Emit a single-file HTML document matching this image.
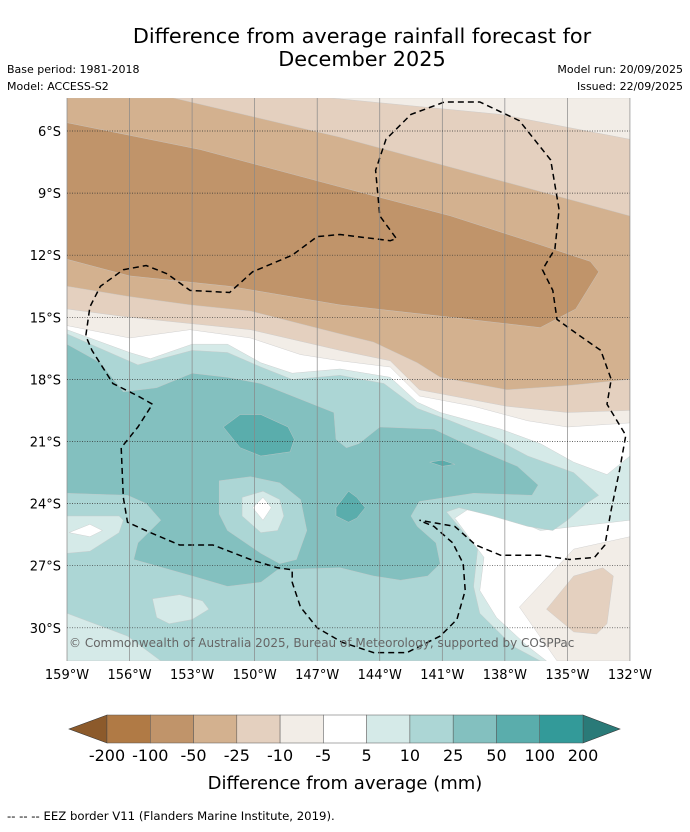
<!DOCTYPE html>
<html><head><meta charset="utf-8"><style>
body{margin:0;background:#fff;}
svg text{font-family:"DejaVu Sans","Liberation Sans",sans-serif;}
</style></head><body>
<svg id="chart" width="690" height="827" viewBox="0 0 690 827" xmlns="http://www.w3.org/2000/svg">
<text x="362" y="43" font-size="20.8" text-anchor="middle" fill="#000">Difference from average rainfall forecast for</text>
<text x="362" y="66" font-size="20.8" text-anchor="middle" fill="#000">December 2025</text>
<text x="7" y="73" font-size="11">Base period: 1981-2018</text>
<text x="7" y="90" font-size="11">Model: ACCESS-S2</text>
<text x="683" y="73" font-size="11" text-anchor="end">Model run: 20/09/2025</text>
<text x="683" y="90" font-size="11" text-anchor="end">Issued: 22/09/2025</text>
<defs><clipPath id="mapclip"><rect x="67" y="98" width="563" height="563"/></clipPath></defs>
<g id="map" clip-path="url(#mapclip)"></g>
<g id="axes"></g>
<text x="69" y="647" font-size="12" fill="#666">© Commonwealth of Australia 2025, Bureau of Meteorology, supported by COSPPac</text>
<g id="cbar"></g>
<text x="345" y="789" font-size="18" text-anchor="middle">Difference from average (mm)</text>
<text x="7" y="820" font-size="11.7">--  --  -- EEZ border V11 (Flanders Marine Institute, 2019).</text>
</svg>
<script>
const NS='http://www.w3.org/2000/svg';
// colour scale data
const levelLabels=['-200','-100','-50','-25','-10','-5','5','10','25','50','100','200'];
const levelColors=['#b07a45','#c0946a','#d3b18f','#e4d0bf','#f2ede7','#ffffff','#d5eae8','#acd6d5','#83c0bf','#5aadac','#339a99'];
const underColor='#8c5a2b';
const overColor='#2a7a78';
// axis ticks
const lonTicks=[-159,-156,-153,-150,-147,-144,-141,-138,-135,-132];
const latTicks=[6,9,12,15,18,21,24,27,30];
// contour polygons [lon, latS]
const polyB5=[[-159,4.4],[-132,4.4],[-132,20.1],[-135,20.3],[-136.9,20],[-139.5,19.3],[-142.1,18.8],[-143.5,17.4],[-145.9,17.1],[-147.8,16.8],[-150.2,16],[-153.1,15.6],[-156,16],[-159,15.4]];
const polyB10=[[-159,4.4],[-146.4,4.4],[-138.2,5.2],[-132,6.4],[-132,19.5],[-135,19.6],[-137.9,19.3],[-142.1,18.5],[-143.5,17.1],[-145.9,16.6],[-150.2,15.6],[-153.1,15.3],[-156,15],[-159,14.6]];
const polyB25=[[-159,4.4],[-153.9,4.4],[-145.9,6.3],[-138.2,8.4],[-132,10.1],[-132,18],[-135,18.3],[-137.9,18.5],[-141.1,17.9],[-142.2,17.2],[-144.3,16.2],[-145.9,15.8],[-150.2,14.7],[-153.1,14.4],[-156,14],[-159,13.5]];
const polyB50=[[-159,5.6],[-152.6,6.9],[-145.9,8.7],[-140.6,10.1],[-136.3,11.5],[-133.9,12.3],[-133.5,12.8],[-134.6,14.6],[-136.3,15.5],[-140.6,15],[-145.9,14.4],[-151.2,13.5],[-156,13],[-159,12.2]];
const polyT5=[[-159,15.6],[-156,16.7],[-155,17],[-153,16.3],[-151.3,16.3],[-149.7,17.2],[-148.2,17.7],[-145.9,17.5],[-143.5,17.9],[-142.2,19.1],[-141.1,19.6],[-138.2,20.4],[-136.3,21.1],[-134.7,22],[-133.1,22.6],[-132,21.7],[-132,24.8],[-136.3,25.3],[-137.9,24.6],[-139.8,24.3],[-140.4,24.7],[-139,26.6],[-139.2,28.2],[-138.4,29.5],[-136.9,30.9],[-136,31.6],[-159,31.6]];
const polyB5b=[[-137.3,29],[-134.7,26.2],[-132,25.6],[-132,31.6],[-135.5,31.6]];
const polyB10b=[[-136,29.1],[-134.7,27.5],[-133.3,27.1],[-132.8,27.5],[-133.1,29.8],[-133.6,30.3],[-134.7,30.2]];
const polyT10=[[-159,15.8],[-155.6,17.3],[-153,16.6],[-151.3,16.7],[-149.7,17.4],[-148.2,18],[-145.9,17.8],[-143.8,18.2],[-142.2,19.4],[-140.6,20],[-138.4,20.9],[-136.9,21.7],[-134.7,22.5],[-133.5,23.6],[-134.1,24],[-135,24.8],[-135.7,25.3],[-136.9,25.1],[-138.6,24.6],[-140.2,24.2],[-140.8,24.4],[-139.3,26.2],[-139.5,28],[-139.2,29.3],[-137.6,30.9],[-136.3,31.6],[-159,31.6]];
const polyT25=[[-159,16.3],[-157.4,17.2],[-156.3,18.6],[-154.7,18.4],[-153,17.7],[-151.3,17.9],[-149.7,18.2],[-146.2,19.6],[-146.1,20.9],[-145.6,21.3],[-145,21.1],[-144,20.3],[-141.4,20.4],[-139.5,21.3],[-137.4,22.2],[-136.4,23.1],[-136.7,23.6],[-139.5,23.5],[-142.1,23.9],[-142.5,24.6],[-142.2,25.1],[-141.3,25.9],[-141.1,26.9],[-141.7,27.5],[-143,27.7],[-144.3,27.5],[-145.9,27.1],[-148.9,27.2],[-149.7,27.8],[-151.3,28],[-153,27.5],[-155.8,26.7],[-155.6,25.9],[-155,25.3],[-154.5,24.8],[-155.2,24],[-156.1,23.6],[-159,23.5]];
const polyT10hole=[[-151.7,22.9],[-150.2,22.7],[-148.8,23],[-147.8,23.8],[-147.5,25.3],[-148,26.7],[-148.8,26.9],[-149.7,26.4],[-151.3,25.3],[-151.7,24.5]];
const polyT5hole=[[-150.6,23.7],[-149.6,23.4],[-148.8,23.8],[-148.6,24.6],[-148.9,25.3],[-149.7,25.4],[-150.6,24.6]];
const polyW1=[[-150.1,24.2],[-149.6,23.7],[-149.2,24.2],[-149.6,24.8]];
const polyT5left=[[-159,24.6],[-156.5,24.6],[-156.3,24.8],[-156.5,25.4],[-157.9,26.3],[-159,26.4]];
const polyW2=[[-158.9,25.4],[-157.9,25],[-157.3,25.3],[-157.9,25.6]];
const polyT5patch=[[-154.9,28.6],[-153.6,28.4],[-152.5,28.7],[-152.2,29.1],[-153,29.6],[-154.1,29.8],[-154.7,29.5]];
const polyT5bottom=[[-159,29.3],[-156.1,30.4],[-154.5,31.6],[-159,31.6]];
const polyT50a=[[-151.5,20.3],[-150.7,19.7],[-149.7,19.7],[-148.4,20.3],[-148.1,20.9],[-148.3,21.5],[-149.7,21.7],[-150.7,21.3]];
const polyT50b=[[-146.1,24.2],[-145.5,23.4],[-145.1,23.7],[-144.7,24.2],[-145.1,24.7],[-145.5,24.9],[-146.1,24.6]];
const polyT50c=[[-141.6,22],[-141,21.9],[-140.4,22.1],[-141,22.2]];
const eezLine=[[-141.9,24.9],[-141.4,25.1],[-140.5,25.9],[-140,26.9],[-139.9,28.2],[-140.3,29.6],[-141.1,30.4],[-142.7,31.2],[-144.3,31.2],[-145.8,30.7],[-147,30],[-147.8,29],[-148.2,27.8],[-148.2,27.2],[-148.9,27.1],[-150.2,26.7],[-152,26],[-153.6,26],[-155,25.4],[-156.1,24.9],[-156.3,23.7],[-156.4,21.3],[-155.6,20.3],[-154.9,19.2],[-155.6,18.8],[-156.8,18.2],[-157.8,16.6],[-158.1,15.9],[-157.9,14.5],[-157.4,13.5],[-156.3,12.7],[-155.2,12.5],[-154.2,12.9],[-153.1,13.7],[-151.2,13.8],[-150.1,12.8],[-148.2,12],[-147,11.1],[-145.9,11],[-143.5,11.3],[-143.2,11.2],[-144,10.1],[-144.2,7.9],[-143.7,6.4],[-142.5,5.2],[-140.9,4.6],[-139.2,4.6],[-137.3,5.5],[-135.8,7.4],[-135.4,9.8],[-135.6,11.7],[-136.2,12.7],[-135.7,13.7],[-135.5,15.1],[-134.4,15.9],[-133.4,16.6],[-132.9,18],[-133.1,19.2],[-132.2,20.7],[-132.5,22.4],[-132.9,24.3],[-133.2,26],[-133.7,26.6],[-134.9,26.7],[-136.3,26.5],[-138.2,26.5],[-139.4,26],[-140.4,25.1],[-142.1,24.8]];

// axis functions
const X=lon=>67+(lon+159)*20.85;
const Y=latS=>131+(latS-6)*20.7;
function el(tag,attrs,parent){const e=document.createElementNS(NS,tag);for(const k in attrs)e.setAttribute(k,attrs[k]);parent.appendChild(e);return e;}
const map=document.getElementById('map');
const bg=el('rect',{x:67,y:98,width:563,height:563,fill:'#ffffff'},map);


const layers=[
 ['band-le-5',polyB5,4],['band-le-10',polyB10,3],['band-le-25',polyB25,2],['band-le-50',polyB50,1],
 ['band-ge-5',polyT5,6],['patch-le-5',polyB5b,4],['patch-le-10',polyB10b,3],
 ['band-ge-10',polyT10,7],['band-ge-25',polyT25,8],['hole-10',polyT10hole,7],['hole-5',polyT5hole,6],['hole-white',polyW1,5],
 ['left-ge-5',polyT5left,6],['left-white',polyW2,5],['patch-ge-5',polyT5patch,6],['bottom-ge-5',polyT5bottom,6],
 ['patch-ge-50-a',polyT50a,9],['patch-ge-50-b',polyT50b,9],['patch-ge-50-c',polyT50c,9]
];
layers.forEach(([name,poly,ci])=>{
  const p=el('polygon',{points:poly.map(d=>X(d[0]).toFixed(1)+','+Y(d[1]).toFixed(1)).join(' '),fill:levelColors[ci],stroke:'#c8c8c8','stroke-width':0.4},map);
  
  
});
const eez=el('polyline',{points:eezLine.map(d=>X(d[0]).toFixed(1)+','+Y(d[1]).toFixed(1)).join(' '),fill:'none',stroke:'#000','stroke-width':1.5,'stroke-dasharray':'6,4'},map);


const axes=document.getElementById('axes');
lonTicks.forEach(lon=>{
  const l=el('line',{x1:X(lon),x2:X(lon),y1:98,y2:661,stroke:'#888','stroke-width':0.7},axes);
  
  
  const t=el('text',{x:X(lon),y:679,'font-size':13,'text-anchor':'middle'},axes);
  t.textContent=Math.abs(lon)+'°W';
  
  
});
latTicks.forEach(lat=>{
  const l=el('line',{x1:67,x2:630,y1:Y(lat),y2:Y(lat),stroke:'#333','stroke-width':0.7,'stroke-dasharray':'1,1.5'},axes);
  
  
  const t=el('text',{x:61,y:Y(lat)+5,'font-size':13,'text-anchor':'end'},axes);
  t.textContent=lat+'°S';
  
  
});
// colorbar
const cb=document.getElementById('cbar');
const cx0=107,cx1=583,cy0=715,cy1=743,n=levelColors.length,w=(cx1-cx0)/n;
const lt=el('polygon',{points:`69,729 ${cx0},${cy0} ${cx0},${cy1}`,fill:underColor,stroke:'#333','stroke-width':0.6},cb);


const rt=el('polygon',{points:`620,729 ${cx1},${cy0} ${cx1},${cy1}`,fill:overColor,stroke:'#333','stroke-width':0.6},cb);


levelColors.forEach((c,i)=>{
  const r=el('rect',{x:cx0+i*w,y:cy0,width:w,height:cy1-cy0,fill:c,stroke:'#555','stroke-width':0.5},cb);
  
  
});
levelLabels.forEach((s,i)=>{
  const t=el('text',{x:cx0+i*w,y:761,'font-size':16,'text-anchor':'middle'},cb);
  t.textContent=s;
  
  
});
</script>
</body></html>
